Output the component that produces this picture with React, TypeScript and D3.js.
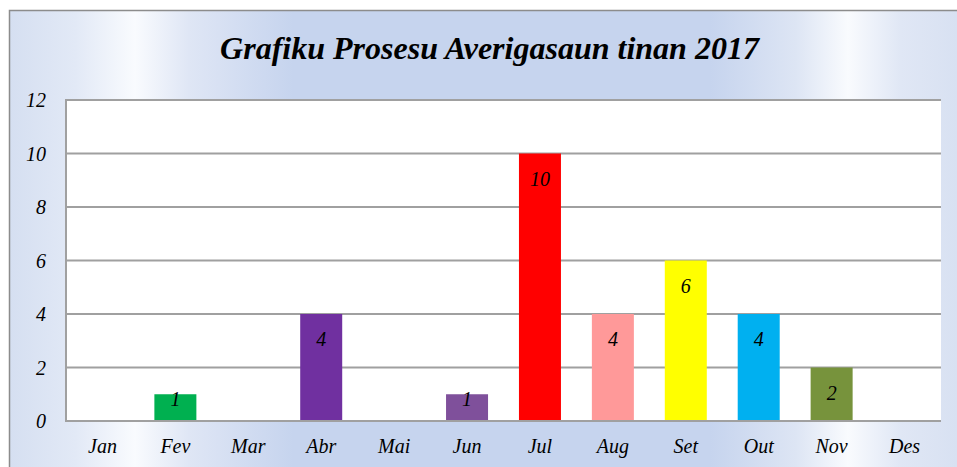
import React from "react";
import * as d3 from "d3";

const months = ["Jan", "Fev", "Mar", "Abr", "Mai", "Jun", "Jul", "Aug", "Set", "Out", "Nov", "Des"];
const values = [0, 1, 0, 4, 0, 1, 10, 4, 6, 4, 2, 0];
const barColors = ["#4f81bd", "#00b050", "#c0504d", "#7030a0", "#4bacc6", "#7f509b", "#ff0000", "#ff9999", "#ffff00", "#00b0f0", "#77933c", "#f79646"];
const yTicks = [0, 2, 4, 6, 8, 10, 12];
const title = "Grafiku Prosesu Averigasaun tinan 2017";

const W = 957;
const H = 467;
const plot = { left: 66, top: 100, right: 941, bottom: 421 };
const serif = { fontFamily: "Liberation Serif, Times New Roman, Times, serif", fontStyle: "italic" as const };

export default function App() {
  const x = d3.scaleBand<string>().domain(months).range([plot.left, plot.right]).paddingInner(0.424).paddingOuter(0.212);
  const y = d3.scaleLinear().domain([0, 12]).range([plot.bottom, plot.top]);

  return (
    <svg width={W} height={H} style={{ position: "absolute", left: 0, top: 0, display: "block" }}>
      <defs>
        <linearGradient id="bg" gradientUnits="userSpaceOnUse" x1={9} y1={0} x2={957} y2={0}>
          <stop offset="0" stopColor="#d5dff1" />
          <stop offset="0.07" stopColor="#e2e9f6" />
          <stop offset="0.133" stopColor="#f9fbfe" />
          <stop offset="0.19" stopColor="#dfe6f5" />
          <stop offset="0.3" stopColor="#c6d4ee" />
          <stop offset="0.74" stopColor="#c6d4ee" />
          <stop offset="0.83" stopColor="#dde5f4" />
          <stop offset="0.885" stopColor="#f9fbfe" />
          <stop offset="0.94" stopColor="#e0e7f5" />
          <stop offset="1" stopColor="#d8e1f2" />
        </linearGradient>
      </defs>
      <rect x={9.5} y={10.5} width={W} height={H} fill="url(#bg)" stroke="#8c8c8c" strokeWidth={1.5} />
      <text x={489.5} y={59} textAnchor="middle" style={{ ...serif, fontWeight: "bold", fontSize: "32px" }} fill="#000">
        {title}
      </text>
      <rect x={plot.left} y={plot.top} width={plot.right - plot.left} height={plot.bottom - plot.top} fill="#ffffff" />
      {yTicks.map((t) => (
        <line key={"g" + t} x1={plot.left} x2={plot.right} y1={y(t)} y2={y(t)} stroke="#a0a0a0" strokeWidth={2} />
      ))}
      <line x1={plot.left} x2={plot.left} y1={plot.top - 1} y2={plot.bottom + 1} stroke="#a0a0a0" strokeWidth={2} />
      {yTicks.map((t) => (
        <text key={"yl" + t} x={46} y={y(t) + 7} textAnchor="end" style={{ ...serif, fontSize: "20px" }} fill="#000">
          {t}
        </text>
      ))}
      {months.map((m, i) => {
        const v = values[i];
        if (v <= 0) return null;
        const bx = x(m)!;
        const top = y(v);
        const h = y(0) - top;
        return (
          <rect key={"b" + m} x={bx} y={top} width={x.bandwidth()} height={h - 1} fill={barColors[i]} />
        );
      })}
      {months.map((m, i) => {
        const v = values[i];
        if (v <= 0) return null;
        const top = y(v);
        const h = y(0) - top;
        const base = h > 40 ? top + 32 : top + 12;
        return (
          <text key={"dl" + m} x={x(m)! + x.bandwidth() / 2} y={base} textAnchor="middle" style={{ ...serif, fontSize: "20px" }} fill="#000">
            {v}
          </text>
        );
      })}
      {months.map((m) => (
        <text key={"xl" + m} x={x(m)! + x.bandwidth() / 2} y={453} textAnchor="middle" style={{ ...serif, fontSize: "20px" }} fill="#000">
          {m}
        </text>
      ))}
    </svg>
  );
}
